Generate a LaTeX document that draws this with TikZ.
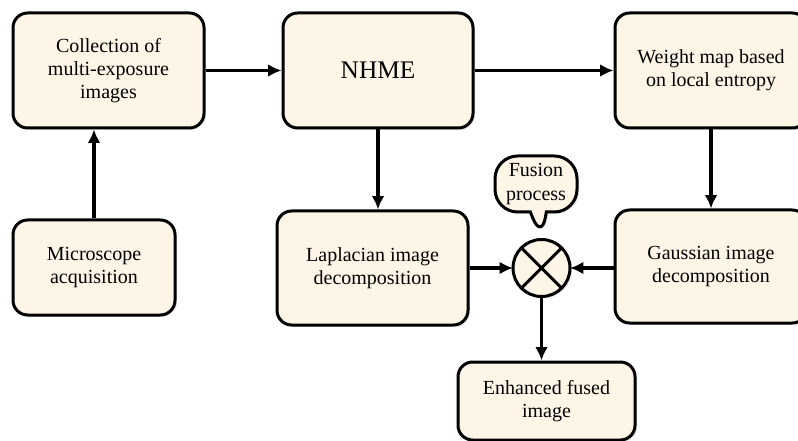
\documentclass[tikz,border=0pt]{standalone}
\usepackage{fontspec}
\setmainfont{Liberation Serif}
\usetikzlibrary{arrows.meta,shadows,shapes.callouts}
\definecolor{boxfill}{RGB}{253,246,230}
\tikzset{every picture/.style={line width=0.75pt}}
\tikzset{
	stagebox/.style={draw, line width=2.25pt, rounded corners=11pt, fill=boxfill, align=center, inner sep=0pt,
		font=\fontsize{15}{17.5}\selectfont,
		drop shadow={shadow xshift=1.5pt, shadow yshift=-1.5pt, opacity=0.18}},
	flowarrow/.style={line width=2.4pt, -{Latex[length=10pt,width=9.5pt]}}
}

\begin{document}
\begin{tikzpicture}[x=0.75pt,y=0.75pt,yscale=-1,xscale=1]
	\path[use as bounding box] (0,0) rectangle (798,441);

	%Rounded Rect (top row)
	\node[stagebox, minimum width=143.25pt, minimum height=86.25pt] (collect) at (108.5,70.5) {Collection of\\multi-exposure\\images};
	\node[stagebox, minimum width=142.5pt, minimum height=86.25pt, font=\fontsize{19}{22}\selectfont] (nhme) at (378,70.5) {NHME};
	\node[stagebox, minimum width=144pt, minimum height=86.25pt] (weight) at (711,70.5) {Weight map based\\on local entropy};

	%Rounded Rect (middle row)
	\node[stagebox, minimum width=121.5pt, minimum height=71.25pt] (micro) at (94,267.5) {Microscope\\acquisition};
	\node[stagebox, minimum width=143.25pt, minimum height=85.5pt] (lap) at (372.5,268) {Laplacian image\\decomposition};
	\node[stagebox, minimum width=144pt, minimum height=84.75pt] (gauss) at (711,266.5) {Gaussian image\\decomposition};

	%Circle with cross
	\node[circle, draw, fill=boxfill, line width=2.25pt, outer sep=0pt, minimum size=42.75pt,
		drop shadow={shadow xshift=1.5pt, shadow yshift=-1.5pt, opacity=0.18}] (fus) at (541.5,268) {};
	\draw[line width=2.25pt] (fus.north west) -- (fus.south east) (fus.north east) -- (fus.south west);

	%Callout
	\node[stagebox, rectangle callout, rounded corners=17pt, minimum width=61.5pt, minimum height=42pt,
		callout absolute pointer={(fus.north)}, callout pointer width=12pt] (note) at (536,184) {Fusion\\process};

	%Rounded Rect (bottom)
	\node[stagebox, minimum width=132.75pt, minimum height=58.5pt] (out) at (546.5,401) {Enhanced fused\\image};

	%Straight Lines
	\draw[flowarrow] (collect) -- (nhme);
	\draw[flowarrow] (nhme) -- (weight);
	\draw[flowarrow] (micro.north) -- (micro.north |- collect.south);
	\draw[flowarrow] (nhme.south) -- (nhme.south |- lap.north);
	\draw[flowarrow] (weight.south) -- (weight.south |- gauss.north);
	\draw[flowarrow] (lap.east) -- (fus.west);
	\draw[flowarrow] (gauss.west |- fus.east) -- (fus.east);
	\draw[flowarrow] (fus.south) -- (fus.south |- out.north);

\end{tikzpicture}
\end{document}
